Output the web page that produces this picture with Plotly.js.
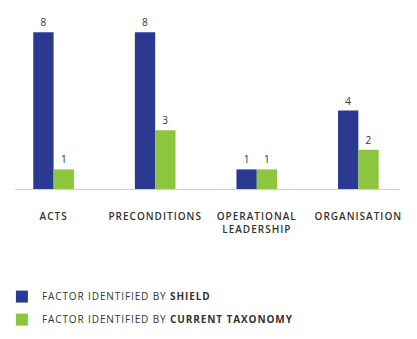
<!DOCTYPE html>
<html>
<head>
<meta charset="utf-8">
<script src="https://cdn.plot.ly/plotly-3.0.1.min.js"></script>
<style>
html,body{margin:0;padding:0;background:#fff;}
#chart{width:417px;height:339px;}
.xtick text{letter-spacing:1px;}
.legendtext{letter-spacing:0.9px;}
</style>
</head>
<body>
<div id="chart"></div>
<script>
const categories = ["ACTS", "PRECONDITIONS", "OPERATIONAL<br>LEADERSHIP", "ORGANISATION"];
const shieldValues = [8, 8, 1, 4];
const taxonomyValues = [1, 3, 1, 2];
const shieldName = "FACTOR IDENTIFIED BY <b>SHIELD</b>";
const taxonomyName = "FACTOR IDENTIFIED BY <b>CURRENT TAXONOMY</b>";

const labelFont = {family: "Open Sans", size: 10, color: "#333"};

const traces = [
  {type: "bar", x: categories, y: shieldValues, name: shieldName,
   marker: {color: "#2B3990"}, text: shieldValues.map(String), textposition: "outside",
   textfont: labelFont, cliponaxis: false, legendgroup: "a"},
  {type: "bar", x: categories, y: taxonomyValues, name: taxonomyName,
   marker: {color: "#8CC63F"}, text: taxonomyValues.map(String), textposition: "outside",
   textfont: labelFont, cliponaxis: false, legendgroup: "b"}
];

const layout = {
  width: 417, height: 339,
  margin: {l: 15, r: 17, t: 10, b: 150, autoexpand: false},
  paper_bgcolor: "#fff", plot_bgcolor: "#fff",
  font: {family: "Open Sans", color: "#333"},
  barmode: "group", bargap: 0.6, bargroupgap: 0,
  showlegend: true,
  legend: {x: -0.034, xanchor: "left", y: -0.52, yanchor: "top", traceorder: "grouped",
           tracegroupgap: 4, itemwidth: 30,
           font: {family: "Open Sans", size: 10, color: "#333"}},
  xaxis: {range: [-0.38, 3.41], showline: true, linecolor: "#d0d0d0", linewidth: 1,
          showgrid: false, zeroline: false, ticks: "", ticklabelstandoff: 18,
          tickfont: {family: "Open Sans", size: 10, color: "#333", weight: 600}},
  yaxis: {range: [0, 9.13], visible: false, showgrid: false, zeroline: false}
};

Plotly.newPlot("chart", traces, layout, {displayModeBar: false, staticPlot: true});
</script>
</body>
</html>
